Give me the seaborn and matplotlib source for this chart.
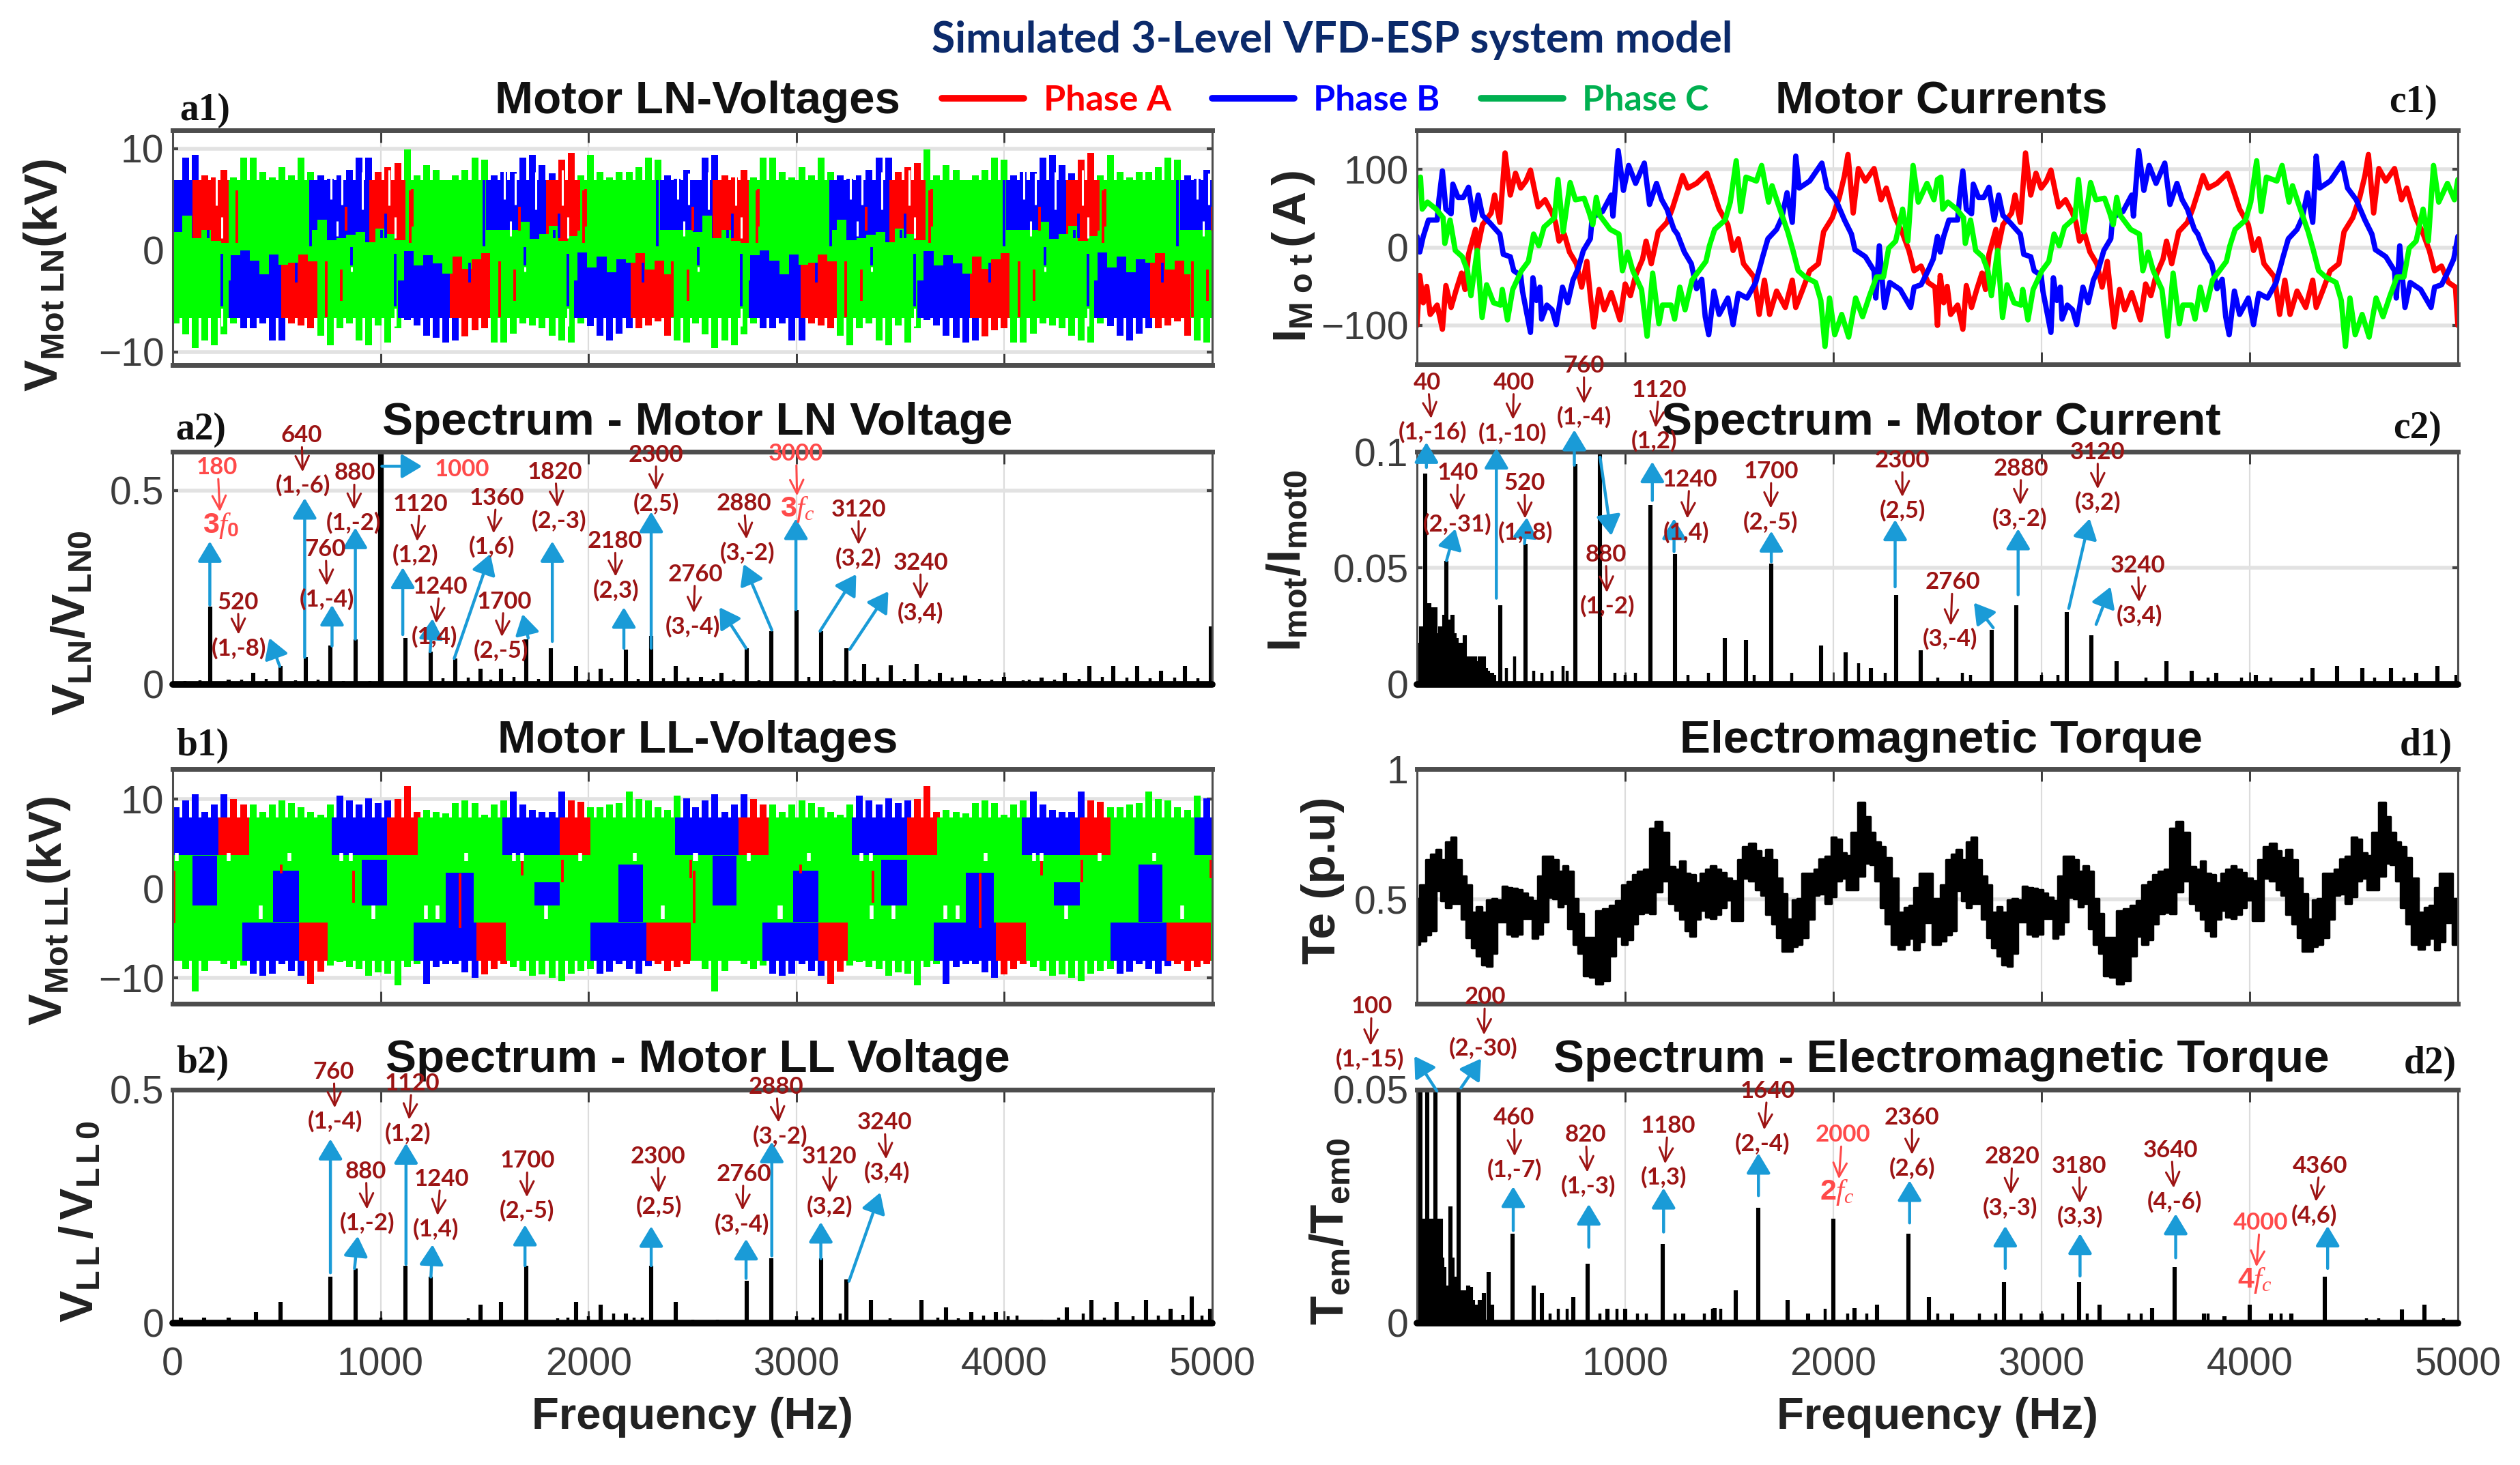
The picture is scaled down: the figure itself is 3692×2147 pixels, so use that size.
import numpy as np
import pandas as pd
import matplotlib
matplotlib.use("Agg")
import matplotlib.pyplot as plt
from matplotlib.patches import FancyArrowPatch
from matplotlib.lines import Line2D
import seaborn as sns

# ------------------------------------------------------------------ data
PHASES = ["Phase A", "Phase B", "Phase C"]
COL = {"red": "#FF0000", "blue": "#0000FF", "green": "#00FF00"}

# Motor LN voltage: tips of the switching ripple over one repeat (kV)
a1_tip_top = [6.0,9.1,9.35,7.4,7.2,7.9,7.2,9.1,9.1,7.7,7.2,8.2,7.4,9.1,7.7,7.4,7.0,7.4,7.9,9.1,9.1,7.7,8.2,8.6,9.9,7.4,8.4,7.9,6.5,7.4,7.9,9.1,8.9,7.4,7.7,7.7,9.1,9.35,8.4,7.6,8.9,9.6,7.4,9.35,7.7,7.2,7.7,7.7,8.2,9.1,8.9,7.4,7.0,7.9]
a1_tip_bot = [-7.2,-8.3,-9.6,-8.9,-9.35,-8.3,-7.2,-7.7,-7.7,-7.2,-8.9,-8.9,-7.2,-7.4,-7.7,-8.4,-9.35,-7.7,-7.2,-8.9,-9.35,-7.4,-9.1,-7.7,-6.9,-7.4,-8.4,-8.6,-9.1,-8.9,-8.5,-7.9,-7.7,-9.1,-9.1,-8.2,-7.2,-7.4,-7.7,-8.4,-8.9,-9.1,-7.2,-7.5,-8.4,-8.9,-8.2,-7.7,-7.7,-7.4,-7,-8.4,-8.9,-9.1]
a1_mid_hi = [1.8,3.4,1.2,2.0,0.9,0.7,2,2,2,2,2,2,2,2,2,3.0,1.0,1.2,1.5,1.8,0.8,2.1,1.6,1.0,1.0,2.3,0.6,2,2,2,2,2,2,2,2,2,2.8,1.1,1.6,2.4,0.9,1.4,1.9,0.8,1.2,2.2,1,2,2,2,2,2,2,2]
a1_mid_lo = [-3,-3,-3,-3,-3,-3,-0.5,0,-1,-2.4,-0.4,-1.4,-1.2,-0.4,-1.1,-2.2,-3,-3,-3,-3,-3,-3,-3,-3,-0.1,-1.5,-0.5,-1.3,-2.3,-0.6,-1.8,-0.9,-0.3,-1.6,-2.1,-3,-3,-3,-3,-3,-3,-3,-0.2,-1.7,-0.6,-2.2,-0.9,-1.2,-0.3,-1.9,-1.0,-2.4,-3,-3]
a1_top_red = [(25,70),(245,290),(465,507)]
a1_top_blue = [(0,25),(170,245),(390,465),(607,647)]
a1_top_green = [(70,170),(290,390),(507,607)]
a1_bot_red = [(135,180),(345,395),(570,620)]
a1_bot_blue = [(70,135),(280,345),(500,570)]
a1_bot_green = [(0,70),(180,280),(395,500),(620,647)]
# thin switching strokes of another phase seen on top of the blocks: position, from, to
a1_red_t = [80,191,210,216,298]
a1_red_lo = [0.75,-6.6,-5.0,1.9,2.3]
a1_red_hi = [5.9,-1.1,-1.9,4.3,6.0]
a1_blue_t = [172,61,223,154,265,44]
a1_blue_lo = [0.4,-5.5,-1.5,-3.2,1.2,1.2]
a1_blue_hi = [6.9,-0.35,0.3,-1.2,3.6,2.0]
a1_slit_t = [54,61,197,211,236,205,61,223]
a1_slit_lo = [4.4,1.2,5.0,4.5,4.0,1.4,-7.5,-2.1]
a1_slit_hi = [7.9,3.3,7.9,7.6,7.7,2.9,-5.7,-1.6]

# Motor LL voltage
b1_tip_top = [9.1,9.9,10.6,8.6,9.4,10.6,10.0,9.4,9.4,8.6,9.4,9.9,9.6,9.1,8.6,8.3,9.4,10.4,9.9,9.4,10.1,9.6,9.9,10,11.5,8.6,8.85,8.6,8.4,9.6,9.9,9.6,8.3,9.4,9.9,10.9,9.4,8.85,8.6,8.6,10.9,9.9,9.75,9.1,9.1,9.4,9.6,10.9,10,9.9,9.1,8.85,10.4,10.1]
b1_tip_bot = [-7.0,-9.0,-11.5,-9.25,-7.8,-8.5,-9,-8.6,-9.5,-9.8,-9.5,-8.5,-9.2,-9.8,-10.7,-9.3,-8.6,-8.2,-8.8,-9,-9.8,-9.4,-9.5,-10.8,-8.8,-8.5,-10.7,-8.8,-8.5,-8.5,-9.4,-10,-9.6,-9,-8.5,-8.8,-9.2,-9.8,-9.6,-10,-10.4,-9.5,-9.25,-9,-9.5,-9.3,-8.5,-9,-9.5,-8.7,-8.5,-9.2,-8.8,-8.5]
b1_top_red = [(57,95),(267,305),(482,520)]
b1_top_blue = [(0,57),(198,267),(410,482),(625,647)]
b1_top_green = [(95,198),(305,410),(520,625)]
b1_bot_red = [(157,193),(378,415),(590,645)]
b1_bot_blue = [(87,157),(300,378),(520,590)]
b1_bot_green = [(0,87),(193,300),(415,520),(645,647)]
b1_col_start = [25,125,235,340,450,555]
b1_col_end = [55,157,267,375,482,585]
b1_col_lo = [-1.9,-3.7,-1.9,-3.9,-1.9,-3.7]
b1_col_hi = [3.7,2.0,3.2,1.8,0.7,2.7]
b1_red_t = [2,135,225,358,435,485,645]
b1_red_lo = [-3.9,1.7,-1.6,-4.4,1.5,0.7,1.2]
b1_red_hi = [2.0,2.7,2.0,1.7,3.5,3.2,3.2]
b1_gap_up = [5,70,145,210,222,365,425,435,507,575,650]
b1_gap_dn = [110,250,315,330,465,610,755,870]

# Motor currents (A) over one repeat, per phase: sample position and value
ia_t = [0,8,18,28,38,58,73,83,98,113,128,138,148,168,173,188,213,223,238,253,268,283,298,313,326,338,348,368,388,398,408,423,438,458,473,488,498,508,523,538,558,583,598,613,628,648,658,673,693,718,733,748,763,778,803,833,848,868,893,908,923,938,968,983,998,1013,1033,1058,1078,1088,1108,1128,1153,1168,1193,1213,1228,1238,1253,1268,1288,1313,1333,1348,1373,1393,1413,1428,1448,1468,1488,1495]
ia_v = [-100,-36,-71,-50,-86,-74,-105,-49,-77,-54,-33,-54,-9,23,-4,29,44,67,32,121,67,95,76,85,99,73,52,61,44,32,8,17,-6,-21,-51,-18,-62,-102,-54,-80,-58,-93,-47,-62,-36,-15,8,-21,20,32,49,70,92,76,82,95,76,49,29,-4,11,-21,-38,-86,-42,-86,-56,-77,-42,-77,-54,-30,-21,20,38,64,92,119,44,101,85,101,61,76,38,20,-4,-30,-24,-45,-51,-100]
ib_t = [0,8,18,33,58,63,73,83,98,103,118,133,148,163,176,188,208,238,248,268,278,298,303,326,333,343,353,358,373,388,400,418,433,448,463,478,498,503,533,558,563,578,593,608,628,653,668,688,703,718,738,748,768,788,803,818,828,838,853,868,893,908,923,948,973,993,1008,1033,1048,1063,1078,1088,1098,1128,1163,1178,1203,1228,1248,1258,1288,1313,1318,1328,1343,1358,1388,1418,1428,1448,1468,1483,1495]
ib_v = [14,-6,14,35,35,61,98,49,43,81,64,64,77,35,67,41,32,17,-9,-12,-30,-36,-56,-109,-39,-68,-51,-92,-74,-80,-99,-51,-71,-42,-27,-4,11,38,46,67,40,124,73,105,82,108,55,82,61,49,23,17,-6,-21,-53,-41,-89,-112,-56,-86,-65,-99,-59,-65,-45,-12,11,23,38,70,32,117,76,85,108,76,61,35,17,-3,-12,-30,-65,2,-77,-45,-54,-77,-51,-48,-30,-15,14]
ic_t = [0,10,15,30,55,75,80,95,110,130,145,155,173,187,200,220,240,245,260,275,300,320,335,350,365,395,405,420,440,455,480,495,505,515,525,555,580,590,605,620,645,661,677,695,705,730,740,755,770,790,815,830,840,855,870,885,900,917,930,945,975,990,1010,1020,1040,1065,1080,1095,1115,1145,1160,1172,1185,1200,1220,1240,1260,1280,1300,1320,1340,1355,1375,1395,1410,1425,1440,1465,1485,1495]
ic_v = [87,90,49,58,49,38,5,35,-4,-12,-30,-62,-4,-90,-48,-71,-74,-54,-93,-54,-30,-18,17,2,26,38,87,20,83,61,63,44,29,64,41,23,17,-30,-6,-30,-54,-114,-33,-98,-74,-74,-92,-51,-80,-42,-27,-18,2,23,29,35,58,111,46,90,85,105,58,79,52,20,-4,-30,-38,-45,-68,-127,-65,-112,-86,-115,-65,-89,-62,-38,-38,-1,8,49,8,105,58,82,61,87]

# Electromagnetic torque band (p.u.) over one repeat
te_t = [12,30,45,60,75,90,105,120,135,150,165,180,195,210,225,240,255,270,285,300,315,330,345,360,375,390,405,420,435,450,465,480,495,510,530,550,570,590,605,625,640,655,670,690,705,725,745,765,780,795,810,825,840,855,870,885,900,915,930,950,965,980,1000,1020,1030,1050,1065,1080,1095,1110,1125,1140,1155,1175,1190,1205,1225,1240,1255,1270,1285,1300,1325,1340,1355,1370,1385,1400,1420,1440,1455,1470,1485,1500,1515,1546]
te_hi = [.503,.555,.651,.673,.690,.651,.721,.738,.651,.590,.555,.450,.472,.450,.498,.503,.498,.551,.546,.542,.538,.524,.507,.494,.590,.664,.664,.651,.607,.629,.607,.503,.446,.354,.354,.455,.463,.476,.494,.555,.568,.594,.607,.616,.773,.799,.756,.625,.616,.647,.599,.594,.564,.599,.616,.629,.616,.603,.581,.572,.651,.703,.716,.686,.660,.690,.651,.581,.520,.424,.498,.503,.599,.599,.616,.655,.664,.738,.730,.677,.668,.756,.873,.817,.756,.721,.703,.660,.581,.450,.468,.476,.546,.599,.599,.503]
te_lo = [.328,.341,.363,.380,.533,.494,.468,.485,.485,.424,.354,.315,.284,.250,.245,.293,.415,.415,.367,.359,.367,.428,.428,.350,.367,.415,.507,.503,.472,.485,.389,.328,.293,.206,.202,.175,.188,.284,.359,.328,.345,.407,.446,.450,.446,.529,.572,.485,.459,.424,.380,.359,.424,.459,.433,.428,.442,.468,.498,.420,.420,.581,.572,.538,.516,.442,.407,.354,.302,.302,.319,.328,.354,.424,.516,.520,.485,.511,.572,.581,.538,.538,.590,.638,.634,.572,.468,.407,.328,.310,.328,.350,.306,.337,.411,.328]

# Spectra: frequency (Hz) and amplitude
a2_f = [180,270,387,520,640,760,880,1120,1240,1360,1480,1580,1700,1820,1940,2060,2180,2300,2420,2540,2640,2760,2880,3000,3120,3240,3325,3453,3577,3690,3810,4000,4180,4290,4410,4525,4640,4755,4870,4994]
a2_a = [.2,.012,.03,.047,.07,.1,.117,.12,.085,.067,.04,.04,.117,.093,.047,.04,.09,.125,.047,.02,.03,.093,.137,.192,.137,.093,.052,.05,.052,.03,.022,.02,.018,.03,.047,.047,.047,.035,.047,.15]
a2_small_f = [60,130,330,450,590,700,820,950,1300,1420,1530,1640,1760,2000,2110,2240,2360,2480,2600,2700,2820,3060,3180,3280,3390,3520,3640,3750,3880,3940,4090,4120,4240,4360,4470,4590,4700,4820,4930]
a2_small_a = [.008,.01,.012,.014,.01,.012,.009,.008,.016,.018,.012,.02,.014,.012,.016,.014,.016,.018,.014,.012,.01,.02,.01,.012,.018,.014,.012,.018,.014,.012,.01,.012,.012,.014,.02,.018,.016,.018,.016]
a2_main_f = [1000]
a2_main_a = [0.6]

b2_f = [40,150,270,400,520,760,880,1120,1240,1480,1580,1700,1940,2060,2180,2300,2420,2760,2880,3120,3240,3360,3600,3720,3840,3960,4300,4420,4540,4680,4800,4900,4990]
b2_a = [.012,.012,.012,.024,.045,.099,.117,.123,.099,.039,.045,.123,.045,.039,.02,.123,.045,.09,.139,.139,.093,.05,.05,.033,.024,.024,.033,.05,.045,.05,.03,.057,.03]
b2_small_f = [1000,1420,1850,1900,2000,2120,2220,2260,2500,2620,3000,3080,3210,3450,3680,3780,3900,4020,4060,4180,4260,4380,4480,4620,4740,4860,4950]
b2_small_a = [.012,.01,.01,.012,.015,.02,.012,.012,.008,.008,.014,.012,.02,.01,.012,.01,.016,.014,.016,.008,.012,.02,.012,.014,.016,.018,.016]

c2_f = [0,10,20,30,40,50,60,70,80,90,100,110,120,130,140,150,160,170,180,190,200,210,220,230,240,250,260,270,280,290,300,310,320,330,340,350,360,370,400,520,760,880,1120,1240,1480,1580,1700,1940,2060,2180,2300,2420,2760,2880,3120,3240,3360,3600,3720,3840,4030,4300,4420,4540,4680,4800,4900,4995]
c2_a = [.018,.012,.025,.018,.0907,.02,.035,.033,.026,.033,.022,.025,.02,.03,.053,.025,.028,.03,.022,.02,.018,.015,.018,.021,.012,.012,.011,.012,.012,.01,.012,.009,.012,.007,.006,.005,.005,.004,.034,.0605,.0946,.1,.077,.056,.02,.019,.052,.0166,.0137,.007,.0385,.0146,.0234,.034,.031,.021,.01,.01,.006,.005,.004,.007,.008,.007,.007,.005,.008,.004]
c2_small_f = [430,470,560,600,650,700,720,950,1000,1050,1300,1400,1620,1800,2120,2250,2500,2620,2660,3000,3080,3500,3800,3960,4100,4250,4600,4740]
c2_small_a = [.007,.012,.006,.005,.006,.008,.006,.005,.004,.005,.004,.005,.004,.005,.009,.005,.003,.005,.004,.004,.004,.003,.003,.003,.003,.003,.003,.003]

d2_f = [15,50,90,130,150,160,170,180,200,210,220,230,245,260,270,290,300,320,345,360,460,560,600,750,820,915,1000,1180,1280,1430,1530,1640,1780,1880,2000,2100,2210,2360,2460,2570,2820,3000,3180,3280,3530,3640,3780,3880,4000,4100,4200,4360,4730,4840]
d2_a = [.05,.05,.05,.012,.008,.025,.014,.01,.05,.006,.007,.007,.008,.0078,.005,.004,.005,.0065,.011,.004,.0192,.008,.0065,.0055,.0127,.003,.003,.0169,.002,.0032,.007,.0247,.0049,.002,.0224,.0032,.0039,.0192,.0055,.002,.0088,.002,.0088,.0039,.0032,.012,.002,.0015,.0039,.002,.002,.0099,.0029,.0039]
d2_low_f = [0,5,25,30,35,40,65,70,75,80,100,105,110,115,120]
d2_low_a = [.0224,.0224,.0224,.0224,.0224,.0224,.0224,.0224,.0224,.0224,.0224,.0224,.0224,.0224,.014]
d2_small_f = [640,680,720,880,960,1060,1100,1240,1380,1420,1460,1960,2070,2160,2500,2700,2780,2900,3100,3220,3420,3480,3800,4150,4560,4620,4930]
d2_small_a = [.002,.003,.003,.002,.003,.002,.002,.002,.002,.003,.003,.003,.002,.002,.002,.002,.002,.002,.002,.002,.002,.002,.002,.002,.001,.001,.001]

FREQ_TICKS = [0, 1000, 2000, 3000, 4000, 5000]

# ------------------------------------------------------------------ style
sns.set_theme(style="white")
plt.rcParams.update({
    "font.family": ["Liberation Sans", "DejaVu Sans"],
    "mathtext.fontset": "custom",
    "mathtext.rm": "Liberation Sans:bold",
    "mathtext.bf": "Liberation Sans:bold",
    "mathtext.it": "Liberation Serif:italic",
    "mathtext.default": "rm",
})
W, H = 3692, 2147
fig = plt.figure(figsize=(W / 100, H / 100), dpi=100, facecolor="white")
TICKC = "#3c3c3c"
DARK = "#9C1414"
LIGHT = "#FF4A4A"
ARROW = "#1A9BD7"


def make_ax(l, r, t, b, ylim, yt, ytl, xmax, xtl=None):
    ax = fig.add_axes([l / W, 1 - b / H, (r - l) / W, (b - t) / H])
    ax.set_xlim(0, xmax)
    ax.set_ylim(*ylim)
    ax.set_xticks(np.linspace(0, xmax, 6))
    ax.set_xticklabels(xtl if xtl else [""] * 6)
    ax.set_yticks(yt)
    ax.set_yticklabels(ytl)
    ax.set_axisbelow(True)
    ax.grid(axis="y", color="#e2e2e2", lw=4)
    ax.grid(axis="x", color="#dcdcdc", lw=1.6)
    ax.tick_params(axis="x", direction="in", top=True, bottom=True, length=13, width=2,
                   color="#333333", labelsize=41, labelcolor=TICKC, pad=25)
    ax.tick_params(axis="y", direction="in", left=True, right=True, length=6, width=3,
                   color="#444444", labelsize=41, labelcolor=TICKC, pad=9)
    for s in ("top", "bottom"):
        ax.spines[s].set_linewidth(5)
        ax.spines[s].set_color("#4d4d4d")
    for s in ("left", "right"):
        ax.spines[s].set_linewidth(2.2)
        ax.spines[s].set_color("#4d4d4d")
    return ax


def decorate(ax, t, b, l, r, title, tx, ty, ylabel, yx, yy, ysize=50):
    ax.set_title(title, x=(tx - l) / (r - l), y=(b - ty - 5) / (b - t), fontsize=48.5,
                 fontweight="bold", color="#111111", va="center", ha="center", pad=0)
    ax.set_ylabel(ylabel, fontsize=ysize, fontweight="bold", color="#222222", va="center")
    ax.yaxis.set_label_coords((yx - l) / (r - l), (b - yy) / (b - t))


LX, RX = 253, 1776
CL, CR = 2076, 3601
PER = 647
TIP_T = np.arange(54) * 12.0


def blocks(ax, spans, tips, body, base, color):
    tips = np.asarray(tips)
    for k in range(2):
        for s, e in spans:
            s2, e2 = s + k * PER, e + k * PER
            ax.fill_between([s2, e2], [base, base], [body, body], color=color, lw=0)
            tt = TIP_T + k * PER
            m = (tt >= s2 - 4) & (tt <= e2 + 4)
            ax.vlines(tt[m] + 4, body, tips[m], color=color, lw=7.2)


def strokes(ax, tt, lo, hi, color, lw=2.8):
    for k in range(6):
        ax.vlines(np.array(tt) + k * PER / 3, lo, hi, color=color, lw=lw)


# ---------- a1
a1 = make_ax(LX, RX, 191, 535, (-11.3, 11.8), [-10, 0, 10], ["\u221210", "0", "10"], 2 * PER)
for c, top, bot in (("red", a1_top_red, a1_bot_red), ("blue", a1_top_blue, a1_bot_blue),
                    ("green", a1_top_green, a1_bot_green)):
    blocks(a1, top, a1_tip_top, 6.9, 0, COL[c])
    blocks(a1, bot, a1_tip_bot, -6.7, 0, COL[c])
for k in range(2):
    tt = np.append(TIP_T + k * PER, (k + 1) * PER)
    a1.fill_between(tt, a1_mid_lo + a1_mid_lo[-1:], a1_mid_hi + a1_mid_hi[-1:], step="post",
                    color=COL["green"], lw=0)
strokes(a1, a1_red_t, a1_red_lo, a1_red_hi, COL["red"])
strokes(a1, a1_blue_t, a1_blue_lo, a1_blue_hi, COL["blue"])
strokes(a1, a1_slit_t, a1_slit_lo, a1_slit_hi, "white", 2.2)
decorate(a1, 191, 535, LX, RX, "Motor LN-Voltages", 1022, 144,
         r"$V_{Mot\ LN}$(kV)", 66, 403)

# ---------- b1
b1 = make_ax(LX, RX, 1127, 1471, (-12.9, 13.4), [-10, 0, 10], ["\u221210", "0", "10"], 2 * PER)
for c, top, bot in (("red", b1_top_red, b1_bot_red), ("blue", b1_top_blue, b1_bot_blue)):
    blocks(b1, top, b1_tip_top, 8.0, 3.6, COL[c])
    blocks(b1, bot, b1_tip_bot, -8.1, -3.6, COL[c])
for k in range(2):
    b1.fill_between([k * PER, (k + 1) * PER], [-3.8, -3.8], [3.8, 3.8], color=COL["green"], lw=0)
    for s, e, lo, hi in zip(b1_col_start, b1_col_end, b1_col_lo, b1_col_hi):
        b1.fill_between([s + k * PER, e + k * PER], [lo, lo], [hi, hi], color=COL["blue"], lw=0)
    b1.vlines(np.array(b1_red_t) + k * PER, b1_red_lo, b1_red_hi, color=COL["red"], lw=2.8)
blocks(b1, b1_top_green, b1_tip_top, 8.0, 3.6, COL["green"])
blocks(b1, b1_bot_green, b1_tip_bot, -8.1, -3.6, COL["green"])
for k in range(2):
    b1.vlines(np.array(b1_gap_up) + k * PER, 3.1, 4.0, color="white", lw=4)
    b1.vlines(np.array(b1_gap_dn) + k * PER, -3.4, -1.9, color="white", lw=4)
decorate(b1, 1127, 1471, LX, RX, "Motor LL-Voltages", 1022, 1081,
         r"$V_{Mot\ LL}$(kV)", 72, 1335)

# ---------- c1
c1 = make_ax(CL, CR, 191, 534, (-150, 150), [-100, 0, 100], ["\u2212100", "0", "100"], 2990)
for c, tt, vv in (("red", ia_t, ia_v), ("blue", ib_t, ib_v), ("green", ic_t, ic_v)):
    tt = np.asarray(tt, float)
    df = pd.DataFrame({"t": np.concatenate([tt, tt + 1495]), "i": np.tile(vv, 2)})
    sns.lineplot(data=df, x="t", y="i", color=COL[c], lw=5.6, estimator=None, sort=False, ax=c1)
c1.set_xlabel("")
decorate(c1, 191, 534, CL, CR, "Motor Currents", 2844, 144, r"$I_{M\ o\ t}\,(\,A\,)$", 1895, 376)

# ---------- d1
d1 = make_ax(CL, CR, 1127, 1471, (0.1, 1.0), [0.5, 1.0], ["0.5", "1"], 3068)
tt = np.asarray(te_t, float) - te_t[0]
td = pd.DataFrame({"t": np.concatenate([tt, tt + 1534]), "hi": np.tile(te_hi, 2), "lo": np.tile(te_lo, 2)})
d1.fill_between(td["t"], td["lo"], td["hi"], color="black", lw=0, step="mid")
sns.lineplot(data=td, x="t", y="hi", color="black", lw=2.5, estimator=None, drawstyle="steps-mid", ax=d1)
sns.lineplot(data=td, x="t", y="lo", color="black", lw=2.5, estimator=None, drawstyle="steps-mid", ax=d1)
d1.set_xlabel("")
d1.set_ylabel("")
decorate(d1, 1127, 1471, CL, CR, "Electromagnetic Torque", 2844, 1081, "Te (p.u)", 1938, 1290, 50)


# ---------- spectra
def spectrum(ax, f, a, fs=(), as_=()):
    sp = pd.DataFrame({"f": f, "a": a})
    ax.vlines(sp["f"], 0, sp["a"], color="black", lw=4.4)
    ax.vlines(fs, 0, as_, color="black", lw=3.2)
    ax.axhline(0, color="black", lw=7, clip_on=False, zorder=3)


FTL = [str(v) for v in FREQ_TICKS]
a2 = make_ax(LX, RX, 662, 1003, (0, 0.6), [0, 0.5], ["0", "0.5"], 5000)
spectrum(a2, a2_f, a2_a, a2_small_f, a2_small_a)
a2.vlines(a2_main_f, 0, a2_main_a, color="black", lw=6)
decorate(a2, 662, 1003, LX, RX, "Spectrum - Motor LN Voltage", 1022, 615,
         r"$V_{LN}/V_{LN0}$", 106, 913)

b2 = make_ax(LX, RX, 1597, 1939, (0, 0.5), [0, 0.5], ["0", "0.5"], 5000, FTL)
spectrum(b2, b2_f, b2_a, b2_small_f, b2_small_a)
decorate(b2, 1597, 1939, LX, RX, "Spectrum - Motor LL Voltage", 1022, 1549,
         r"$V_{L\,L}\,/\,V_{L\,L\,0}$", 118, 1790)
b2.set_xlabel("Frequency (Hz)", fontsize=47, fontweight="bold", color="#222222", labelpad=14)

c2 = make_ax(CL, CR, 662, 1003, (0, 0.1), [0, 0.05, 0.1], ["0", "0.05", "0.1"], 5000)
spectrum(c2, c2_f, c2_a, c2_small_f, c2_small_a)
decorate(c2, 662, 1003, CL, CR, "Spectrum - Motor Current", 2844, 615,
         r"$I_{mot}/I_{mot0}$", 1887, 822)

d2 = make_ax(CL, CR, 1597, 1939, (0, 0.05), [0, 0.05], ["0", "0.05"], 5000, [""] + FTL[1:])
spectrum(d2, d2_f, d2_a, d2_small_f, d2_small_a)
d2.vlines(d2_low_f, 0, d2_low_a, color="black", lw=4.4)
decorate(d2, 1597, 1939, CL, CR, "Spectrum - Electromagnetic Torque", 2844, 1549,
         r"$T_{em}/T_{em0}$", 1950, 1805)
d2.set_xlabel("Frequency (Hz)", fontsize=47, fontweight="bold", color="#222222", labelpad=14)

# ---------- overlay for call-outs, in reference pixels
ov = fig.add_axes([0, 0, 1, 1], zorder=10)
ov.set_xlim(0, W)
ov.set_ylim(H, 0)
ov.axis("off")
ov.patch.set_alpha(0)

FAM = ["Lato", "DejaVu Sans"]


def Z2(x, y): return x / .849, 560 + y / 3
def Z3(x, y): return 1846 + x / .849, 520 + y / 3
def Z4(x, y): return x / .849, 1500 + y / 2.423
def Z5(x, y): return 1846 + x / .849, 1450 + y / 2.25


def blue(p, q):
    ov.add_patch(FancyArrowPatch(p, q, arrowstyle="-|>,head_length=0.45,head_width=0.27",
                                 mutation_scale=40, color=ARROW, lw=3.2, shrinkA=0, shrinkB=0))


def note(z, num, pair, x1, y1, x2, y2, col=DARK):
    ax_, ay_ = z(x1, y1)
    bx_, by_ = z(x2, y2)
    ov.text(ax_, ay_, num, color=col, fontsize=25, fontweight="bold", family=FAM, ha="center", va="center")
    ov.text(bx_, by_, pair, color=col, fontsize=31 if pair.startswith("$") else 25, fontweight="bold",
            family=FAM, ha="center", va="center")
    mx = (ax_ + bx_) / 2
    ov.add_patch(FancyArrowPatch((ax_ + (mx - ax_) * .6, ay_ + 17), (bx_ - (bx_ - mx) * .6, by_ - 20),
                                 arrowstyle="->,head_length=0.45,head_width=0.22", mutation_scale=32,
                                 color=col, lw=2.2, shrinkA=0, shrinkB=0))


F0 = r"$\mathit{3f_{0}}$"
FC3 = r"$\mathit{3f_{c}}$"
FC2 = r"$\mathit{2f_{c}}$"
FC4 = r"$\mathit{4f_{c}}$"

notes_a2 = [("180",F0,270,375,275,630,LIGHT),("520","(1,-8)",296,968,297,1170,DARK),("640","(1,-6)",375,235,377,455,DARK),
            ("880","(1,-2)",441,400,440,620,DARK),("760","(1,-4)",405,735,407,955,DARK),("1120","(1,2)",523,537,517,760,DARK),
            ("1240","(1,4)",548,900,540,1120,DARK),("1360","(1,6)",618,510,612,725,DARK),("1700","(2,-5)",627,965,623,1180,DARK),
            ("1820","(2,-3)",690,395,695,610,DARK),("2180","(2,3)",765,700,766,915,DARK),("2300","(2,5)",816,320,816,535,DARK),
            ("2760","(3,-4)",865,845,862,1075,DARK),("2880","(3,-2)",925,535,930,750,DARK),("3000",FC3,990,315,992,560,LIGHT),
            ("3120","(3,2)",1068,560,1068,775,DARK),("3240","(3,4)",1145,795,1145,1015,DARK)]
arrows_a2 = [(261,980,261,700),(348,1250,335,1125),(379,1210,379,510),(413,1160,413,980),(442,1130,442,640),(501,1110,501,815),
             (535,1185,538,1040),(565,1215,610,755),(657,1125,650,1020),(687,1140,687,700),(776,1170,776,990),(810,1170,810,570),
             (928,1170,895,990),(960,1090,925,800),(990,1000,990,600),(1020,1095,1065,845),(1057,1175,1105,920),(475,370,525,370)]
notes_c2 = [("40","(1,-16)",208,122,215,340),("400","(1,-10)",316,122,314,345),("760","(1,-4)",403,48,403,275),("1120","(1,2)",497,155,490,380),
            ("140","(2,-31)",246,520,245,745),("520","(1,-8)",329,565,330,780),("880","(1,-2)",430,878,432,1105),("1240","(1,4)",535,548,530,780),
            ("1700","(2,-5)",636,513,635,735),("2300","(2,5)",799,465,799,685),("2880","(3,-2)",947,500,945,720),("3120","(3,2)",1042,428,1042,650),
            ("2760","(3,-4)",862,1000,858,1250),("3240","(3,4)",1092,927,1094,1147)]
arrows_c2 = [(207,495,207,385),(232,905,243,765),(294,1070,294,410),(329,830,332,715),(391,485,391,330),(423,450,437,795),(488,640,488,470),
             (515,865,515,720),(636,910,636,775),(790,1020,790,725),(912,1200,888,1090),(943,1055,943,765),(1006,1115,1032,720),(1040,1185,1058,1020)]
notes_b2 = [("760","(1,-4)",415,172,417,348),("880","(1,-2)",455,525,457,708),("1120","(1,2)",513,213,507,390),("1240","(1,4)",549,552,542,730),
            ("1700","(2,-5)",656,488,655,665),("2300","(2,5)",818,472,820,650),("2760","(3,-4)",925,535,923,712),("2880","(3,-2)",965,225,970,400),
            ("3120","(3,2)",1032,472,1032,650),("3240","(3,4)",1100,352,1103,530)]
arrows_b2 = [(411,885,411,410),(441,870,445,755),(505,855,505,425),(536,900,538,785),(653,860,653,715),(810,860,810,720),(928,905,928,765),
             (960,825,960,420),(1021,835,1021,705),(1056,915,1095,600)]
notes_d2 = [("100","(1,-15)",139,57,137,230,DARK),("200","(2,-30)",280,25,278,195,DARK),("460","(1,-7)",316,422,317,595,DARK),("820","(1,-3)",405,480,408,648,DARK),
            ("1180","(1,3)",508,450,502,620,DARK),("1640","(2,-4)",632,335,625,508,DARK),("2000",FC2,725,480,718,670,LIGHT),("2360","(2,6)",811,422,811,590,DARK),
            ("2820","(3,-3)",936,552,933,720,DARK),("3180","(3,3)",1019,582,1020,750,DARK),("3640","(4,-6)",1133,530,1138,700,DARK),
            ("4000",FC4,1245,770,1237,960,LIGHT),("4360","(4,6)",1319,582,1311,745,DARK)]
arrows_d2 = [(220,335,192,220),(250,325,275,228),(315,795,315,650),(409,850,409,708),(502,800,502,655),(620,680,620,540),(808,770,808,630),
             (927,920,927,780),(1020,945,1020,805),(1139,885,1139,740),(1328,920,1328,780)]

for n in notes_a2:
    note(Z2, *n)
for a in arrows_a2:
    blue(Z2(a[0], a[1]), Z2(a[2], a[3]))
tx_, ty_ = Z2(575, 383)
ov.text(tx_, ty_, "1000", color=LIGHT, fontsize=25, fontweight="bold", family=FAM, ha="center", va="center")
for n in notes_c2:
    note(Z3, *n)
for a in arrows_c2:
    blue(Z3(a[0], a[1]), Z3(a[2], a[3]))
for n in notes_b2:
    note(Z4, *n)
for a in arrows_b2:
    blue(Z4(a[0], a[1]), Z4(a[2], a[3]))
for n in notes_d2:
    note(Z5, *n)
for a in arrows_d2:
    blue(Z5(a[0], a[1]), Z5(a[2], a[3]))

# panel tags
for s, x, y in (("a1)",300,162),("a2)",294,630),("b1)",297,1093),("b2)",297,1558),
                ("c1)",3536,150),("c2)",3542,628),("d1)",3554,1093),("d2)",3560,1559)):
    ov.text(x, y, s, fontsize=40, fontweight="bold", family="Liberation Serif", color="#111111", ha="center", va="center")

# figure title and shared legend
fig.text(1952 / W, 1 - 59 / H, "Simulated 3-Level VFD-ESP system model", fontsize=45, fontweight="bold",
         family=FAM, color="#0B2A6B", ha="center", va="center")
handles = [Line2D([], [], color=c, lw=7) for c in ("#FF0000", "#0000FF", "#00B050")]
fig.legend(handles, PHASES, ncol=3, loc="center", bbox_to_anchor=(1942 / W, 1 - 148 / H), frameon=False,
           prop={"family": FAM, "weight": "bold", "size": 37.5}, labelcolor=["#FF0000", "#0000FF", "#00B050"],
           handlelength=2.3, handletextpad=0.55, columnspacing=1.15, borderpad=0, borderaxespad=0)

fig.savefig("out.png", dpi=100, facecolor="white")
